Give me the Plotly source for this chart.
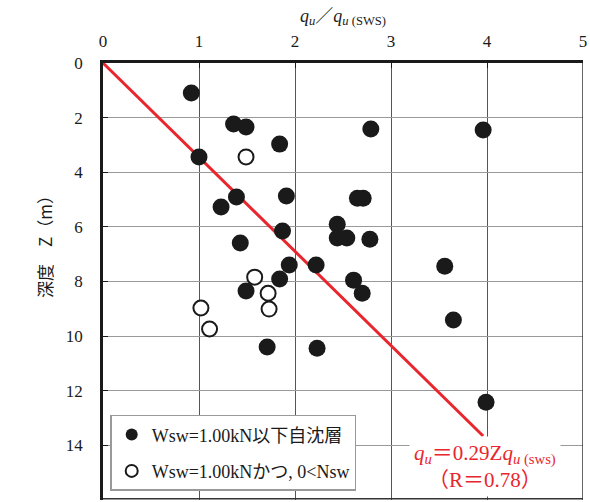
import plotly.graph_objects as go

# Data
filled_x = [0.92, 1.36, 1.49, 1.84, 1.00, 1.39, 1.23, 1.91, 1.87, 1.43, 2.44, 2.44, 2.54, 2.78,
            2.65, 2.71, 2.79, 3.96, 3.56, 3.65, 3.99, 2.61, 2.70, 1.94, 1.84, 1.49, 2.22, 1.71, 2.23]
filled_z = [1.10, 2.23, 2.34, 2.97, 3.44, 4.91, 5.27, 4.87, 6.15, 6.59, 5.90, 6.41, 6.41, 6.45,
            4.95, 4.95, 2.42, 2.45, 7.44, 9.41, 12.42, 7.95, 8.43, 7.40, 7.91, 8.35, 7.40, 10.40, 10.44]
open_x = [1.49, 1.58, 1.72, 1.73, 1.02, 1.11]
open_z = [3.44, 7.84, 8.43, 9.01, 8.97, 9.74]

coef = 0.29
line_x = [0.0, 3.96]
line_z = [v / coef for v in line_x]

x_ticks = [0, 1, 2, 3, 4, 5]
z_ticks = [0, 2, 4, 6, 8, 10, 12, 14, 16]

serif = "Liberation Serif"
serif_cjk = "Liberation Serif, Noto Sans CJK JP"

fig = go.Figure()
fig.add_trace(go.Scatter(x=line_x, y=line_z, mode="lines",
                         line=dict(color="#e8262d", width=3), showlegend=False, hoverinfo="skip"))
fig.add_trace(go.Scatter(x=filled_x, y=filled_z, mode="markers", name="Wsw=1.00kN以下自沈層",
                         legendgroup="a",
                         marker=dict(size=17, color="#1a1a1a", line=dict(width=0))))
fig.add_trace(go.Scatter(x=open_x, y=open_z, mode="markers", name="Wsw=1.00kNかつ, 0<Nsw",
                         legendgroup="b",
                         marker=dict(size=15, color="white", line=dict(width=2, color="#1a1a1a"))))

fig.update_layout(
    width=590, height=502,
    margin=dict(l=103, r=7, t=63, b=2),
    paper_bgcolor="white", plot_bgcolor="white",
    font=dict(family=serif, size=17, color="#1a1a1a"),
    legend=dict(x=0.015, y=0.195, xanchor="left", yanchor="top",
                bgcolor="white", bordercolor="#999", borderwidth=1.5,
                font=dict(family=serif_cjk, size=18, color="#1a1a1a"),
                tracegroupgap=10, traceorder="grouped", itemsizing="constant",
                itemwidth=30),
    xaxis=dict(side="top", range=[0, 5], tickvals=x_ticks, ticks="inside", ticklen=5,
               tickfont=dict(family=serif, size=17),
               tickcolor="#1a1a1a", showline=True, linecolor="#1a1a1a", linewidth=2.5,
               showgrid=True, gridcolor="#555", gridwidth=1, zeroline=False,
               ticklabelstandoff=6,
               title=dict(text="<i>q</i><sub><i>u</i></sub>／<i>q</i><sub><i>u</i> (SWS)</sub>",
                          font=dict(family=serif_cjk, size=18), standoff=6)),
    yaxis=dict(range=[16, 0], tickvals=z_ticks, ticks="inside", ticklen=5,
               tickfont=dict(family=serif, size=17),
               tickcolor="#1a1a1a", showline=True, linecolor="#1a1a1a", linewidth=2.5,
               showgrid=True, gridcolor="#999", gridwidth=1, zeroline=False,
               ticklabelstandoff=14),
)

fig.add_annotation(xref="paper", yref="paper", x=-0.153, y=0.588, text="深度　Z（m）",
                   textangle=-90, showarrow=False,
                   font=dict(family="Noto Sans CJK JP, sans-serif", size=17, color="#1a1a1a"))

fig.add_annotation(xref="paper", yref="paper", x=0.796, y=0.008, xanchor="center", yanchor="bottom",
                   text="<i>q</i><sub><i>u</i></sub>＝0.29Z<i>q</i><sub><i>u</i> (sws)</sub><br>（R＝0.78）",
                   showarrow=False, bgcolor="white", borderpad=4, align="center",
                   font=dict(family=serif_cjk, size=21, color="#e8262d"))

fig.add_shape(type="line", xref="x", yref="paper", x0=5, x1=5, y0=0, y1=1,
              line=dict(color="#333", width=1.5))
fig.add_shape(type="line", xref="paper", yref="paper", x0=0, x1=1, y0=0.003, y1=0.003,
              line=dict(color="#333", width=1.5))

fig.write_html("out.html")
